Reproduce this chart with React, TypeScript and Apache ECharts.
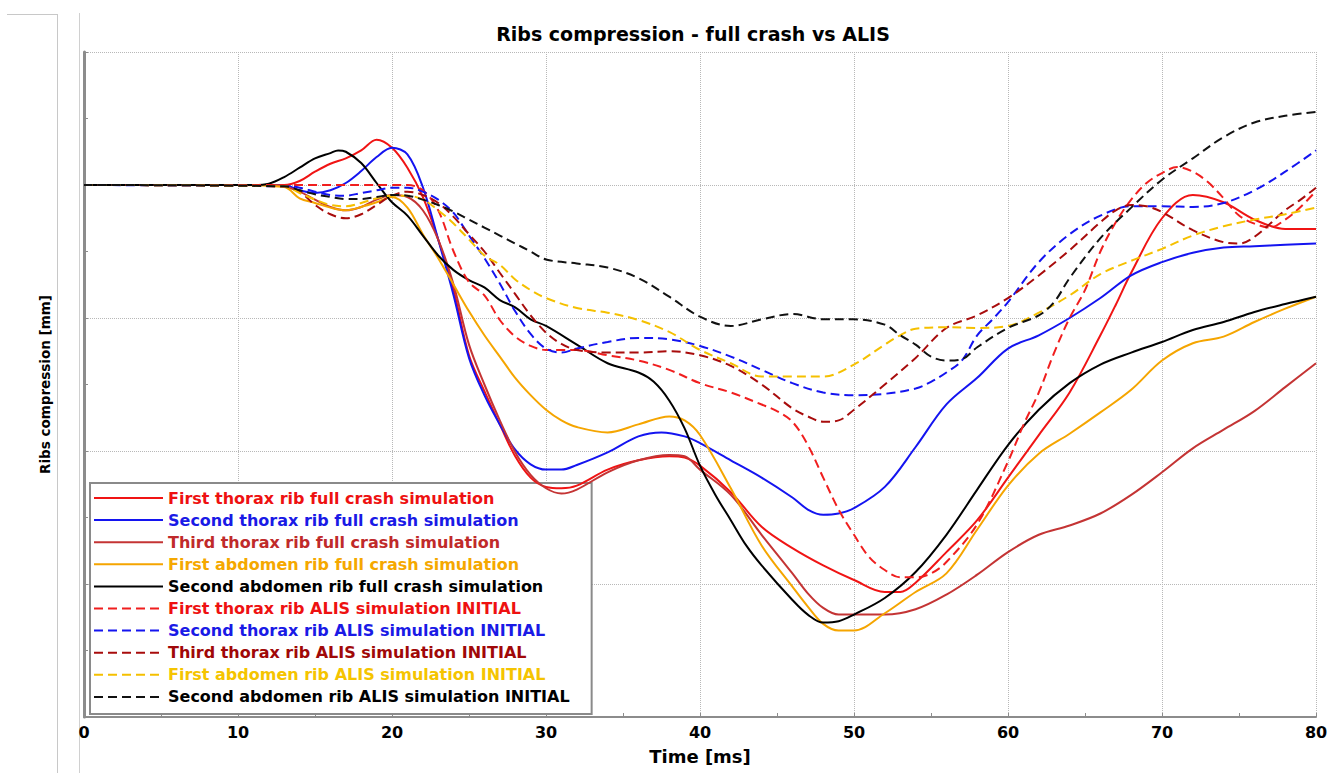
import React, { useEffect, useRef } from "react";
import * as echarts from "echarts";

const chartTitle = "Ribs compression - full crash vs ALIS";
const xAxisName = "Time [ms]";
const yAxisName = "Ribs compression [mm]";

const seriesNames = [
  "First thorax rib full crash simulation",
  "Second thorax rib full crash simulation",
  "Third thorax rib full crash simulation",
  "First abdomen rib full crash simulation",
  "Second abdomen rib full crash simulation",
  "First thorax rib ALIS simulation INITIAL",
  "Second thorax rib ALIS simulation INITIAL",
  "Third thorax rib ALIS simulation INITIAL",
  "First abdomen rib ALIS simulation INITIAL",
  "Second abdomen rib ALIS simulation INITIAL",
];

const seriesColors = [
  "#f01414", "#1414f0", "#c43434", "#f5a500", "#000000",
  "#f01e1e", "#1414f0", "#a80c0c", "#f5c000", "#111111",
];
const legendTextColors = [
  "#ee1111", "#1a1ae6", "#c02a2a", "#f5a800", "#000000",
  "#ee1111", "#1a1ae6", "#a00808", "#f5c400", "#000000",
];
const seriesDashed = [false, false, false, false, false, true, true, true, true, true];

const firstThoraxFull: [number, number][] = [
  [0, 40], [10, 40], [13, 40], [14, 40.3], [15, 41.0], [16, 41.6], [17, 42.0], [18, 42.6], [19, 43.4],
  [20, 42.8], [21, 41.3], [22, 39.1], [23, 35.9], [24, 32.1], [25, 27.2], [26, 24.5], [27, 22.0],
  [28, 19.6], [29, 18.0], [30, 17.3], [31, 17.2], [32, 17.4], [34, 18.6], [36, 19.3], [38, 19.6],
  [39, 19.5], [40, 18.9], [42, 16.9], [44, 14.3], [46, 12.7], [48, 11.4], [50, 10.3], [52, 9.4],
  [53, 9.4], [54, 10.1], [56, 12.4], [58, 14.8], [60, 18.0], [62, 21.2], [64, 24.4], [66, 28.7],
  [67, 31.0], [68, 33.4], [70, 37.5], [72, 39.25], [74, 38.7], [76, 37.4], [78, 36.7], [80, 36.7],
];

const secondThoraxFull: [number, number][] = [
  [0, 40], [10, 40], [13, 40], [14, 39.6], [15, 39.4], [16, 39.6], [17, 40.15], [18, 41.05], [19, 42.1],
  [20, 42.8], [21, 42.3], [22, 39.85], [23, 35.9], [24, 31.7], [25, 27.0], [26, 24.2], [27, 22.0],
  [28, 20.1], [29, 19.0], [30, 18.6], [31, 18.6], [32, 18.95], [34, 19.9], [36, 21.1], [37.5, 21.4],
  [39, 21.1], [40, 20.6], [42, 19.3], [44, 18.0], [46, 16.5], [47, 15.6], [48, 15.2], [49, 15.3],
  [50, 15.7], [52, 17.3], [54, 20.3], [56, 23.5], [58, 25.5], [60, 27.7], [62, 28.7], [64, 30.0],
  [66, 31.5], [68, 33.2], [70, 34.2], [72, 34.9], [74, 35.3], [76, 35.4], [78, 35.5], [80, 35.6],
];

const thirdThoraxFull: [number, number][] = [
  [0, 40], [10, 40], [12.5, 40], [13, 39.9], [14, 39.5], [15, 38.9], [16, 38.35], [17, 38.1], [18, 38.35],
  [19, 38.9], [20, 39.25], [21, 39.1], [22, 38.1], [23, 35.9], [24, 32.5], [25, 28.0], [26, 25.0],
  [27, 22.3], [28, 19.9], [29, 18.2], [30, 17.2], [31, 16.8], [32, 17.1], [34, 18.4], [36, 19.3],
  [38, 19.7], [39, 19.6], [40, 18.6], [42, 16.7], [44, 13.7], [46, 10.8], [47, 9.3], [48, 8.2],
  [49, 7.7], [50, 7.7], [52, 7.7], [54, 8.1], [56, 9.2], [58, 10.7], [60, 12.4], [62, 13.7],
  [64, 14.4], [66, 15.3], [68, 16.7], [70, 18.4], [72, 20.2], [74, 21.6], [76, 23.0], [78, 24.8], [80, 26.6],
];

const firstAbdomenFull: [number, number][] = [
  [0, 40], [10, 40], [13, 39.85], [14, 39.0], [15, 38.65], [16, 38.3], [17, 38.1], [18, 38.35], [19, 38.7],
  [20, 39.1], [21, 38.3], [22, 36.3], [23, 34.5], [24, 32.5], [25, 30.5], [26, 28.7], [27, 27.1],
  [28, 25.5], [29, 24.2], [30, 23.1], [31, 22.3], [32, 21.8], [34, 21.4], [36, 22.0], [38, 22.6],
  [39, 22.3], [40, 21.2], [42, 17.2], [44, 12.9], [46, 9.8], [47, 8.3], [48, 7.0], [49, 6.5],
  [50, 6.5], [52, 7.8], [54, 9.4], [56, 10.8], [58, 14.1], [60, 17.4], [62, 19.8], [64, 21.3],
  [66, 22.9], [68, 24.6], [70, 26.8], [72, 28.1], [74, 28.6], [76, 29.7], [78, 30.7], [80, 31.6],
];

const secondAbdomenFull: [number, number][] = [
  [0, 40], [11, 40], [12, 40.1], [13, 40.6], [14, 41.3], [15, 42.0], [16, 42.4], [16.5, 42.6], [17, 42.5],
  [18, 41.65], [19, 40.15], [20, 38.7], [21, 37.7], [22, 36.2], [23, 34.7], [24, 33.6], [25, 32.85],
  [26, 32.3], [27, 31.35], [28, 30.8], [29, 29.9], [30, 29.4], [32, 28.0], [34, 26.6], [36, 25.9],
  [37, 25.2], [38, 23.8], [39, 21.7], [40, 18.9], [41, 16.7], [42, 14.8], [43, 12.9], [44, 11.4],
  [46, 8.8], [47, 7.7], [48, 7.1], [49, 7.2], [50, 7.7], [52, 8.95], [54, 10.9], [56, 13.7],
  [58, 17.1], [60, 20.45], [62, 23.1], [64, 25.1], [66, 26.5], [68, 27.4], [70, 28.2], [72, 29.1],
  [74, 29.7], [76, 30.45], [78, 31.05], [80, 31.6],
];

const firstThoraxAlis: [number, number][] = [
  [0, 40], [21, 40], [22, 39.6], [23, 38.1], [24, 35.0], [25, 32.7], [26, 31.7], [27, 29.85], [28, 28.6],
  [29, 27.9], [30, 27.6], [31, 27.6], [32, 27.6], [34, 27.2], [36, 26.8], [38, 26.1], [40, 25.1],
  [42, 24.4], [44, 23.5], [45, 23.0], [46, 22.2], [47, 20.45], [48, 18.0], [49, 15.6], [50, 13.7],
  [51, 12.0], [52, 11.05], [53, 10.5], [54, 10.5], [55, 10.8], [56, 11.65], [58, 14.5], [60, 19.2],
  [61, 21.95], [62, 24.4], [63, 27.4], [64, 30.0], [65, 32.1], [66, 35.0], [67, 37.2], [68, 38.9],
  [69, 40.15], [70, 40.9], [71, 41.35], [72, 41.0], [73, 40.2], [74, 39.0], [75, 37.7], [76, 37.1],
  [77, 36.8], [78, 37.4], [79, 38.35], [80, 39.55],
];

const secondThoraxAlis: [number, number][] = [
  [0, 40], [13, 39.9], [14, 39.8], [15, 39.5], [16, 39.25], [17, 39.2], [18, 39.4], [19, 39.6], [20, 39.8],
  [21, 39.8], [22, 39.5], [23, 38.9], [24, 37.9], [25, 36.2], [26, 34.5], [27, 32.6], [28, 30.5],
  [29, 28.8], [30, 27.7], [31, 27.4], [32, 27.7], [34, 28.2], [36, 28.5], [38, 28.4], [40, 27.9],
  [42, 27.1], [44, 26.1], [46, 25.1], [48, 24.4], [50, 24.2], [52, 24.3], [54, 24.7], [55, 25.2],
  [56, 25.9], [57, 26.8], [58, 28.7], [59, 29.9], [60, 31.2], [62, 34.2], [64, 36.3], [66, 37.7],
  [68, 38.4], [70, 38.4], [72, 38.35], [74, 38.65], [76, 39.6], [78, 41.0], [80, 42.6],
];

const thirdThoraxAlis: [number, number][] = [
  [0, 40], [13, 39.9], [14, 39.5], [15, 38.5], [16, 37.8], [17, 37.5], [18, 37.8], [19, 38.5], [20, 39.2],
  [21, 39.5], [22, 39.25], [23, 38.65], [24, 37.6], [25, 36.3], [26, 35.0], [27, 33.4], [28, 31.8],
  [29, 30.2], [30, 28.9], [31, 28.05], [32, 27.6], [34, 27.4], [36, 27.4], [38, 27.5], [40, 27.2],
  [42, 26.4], [44, 25.0], [46, 23.2], [47, 22.6], [48, 22.2], [49, 22.3], [50, 23.1], [52, 25.0],
  [54, 27.0], [56, 29.25], [58, 30.2], [60, 31.5], [62, 33.2], [64, 35.1], [66, 37.2], [67, 38.1],
  [68, 38.5], [69, 38.4], [70, 37.97], [72, 36.6], [74, 35.7], [75, 35.6], [76, 36.1], [78, 38.1],
  [79, 38.9], [80, 39.8],
];

const firstAbdomenAlis: [number, number][] = [
  [0, 40], [13, 39.9], [14, 39.4], [15, 38.9], [16, 38.5], [17, 38.4], [18, 38.65], [19, 39.0], [20, 39.2],
  [21, 39.2], [22, 38.9], [23, 38.1], [24, 37.1], [25, 35.9], [26, 34.7], [27, 34.0], [28, 32.9],
  [29, 32.1], [30, 31.5], [32, 30.75], [34, 30.4], [36, 29.85], [38, 28.95], [40, 27.6], [42, 26.6],
  [44, 25.6], [46, 25.6], [48, 25.6], [50, 26.5], [52, 28.0], [53, 28.7], [54, 29.2], [56, 29.3],
  [58, 29.25], [60, 29.4], [62, 30.4], [64, 31.7], [66, 33.3], [68, 34.3], [70, 35.2], [72, 36.2],
  [74, 36.9], [76, 37.4], [78, 37.8], [80, 38.3],
];

const secondAbdomenAlis: [number, number][] = [
  [0, 40], [13, 39.9], [14, 39.6], [15, 39.3], [16, 39.1], [17, 38.95], [18, 38.95], [19, 39.1], [20, 39.25],
  [21, 39.2], [22, 38.9], [23, 38.5], [24, 38.0], [25, 37.4], [26, 36.8], [27, 36.2], [28, 35.6],
  [29, 35.0], [30, 34.4], [32, 34.1], [34, 33.8], [36, 33.0], [38, 31.6], [40, 30.1], [42, 29.4],
  [44, 29.9], [46, 30.3], [48, 29.9], [50, 29.9], [52, 29.5], [53, 28.7], [54, 28.0], [55, 27.1],
  [56, 26.8], [57, 26.9], [58, 27.8], [60, 29.25], [62, 30.2], [63, 31.2], [64, 33.0], [66, 36.0],
  [68, 38.3], [70, 40.4], [72, 42.0], [74, 43.6], [76, 44.7], [78, 45.2], [80, 45.5],
];

const seriesData = [
  firstThoraxFull, secondThoraxFull, thirdThoraxFull, firstAbdomenFull, secondAbdomenFull,
  firstThoraxAlis, secondThoraxAlis, thirdThoraxAlis, firstAbdomenAlis, secondAbdomenAlis,
];

const FONT = "DejaVu Sans";

export default function App() {
  const ref = useRef<HTMLDivElement>(null);
  useEffect(() => {
    if (!ref.current) return;
    const chart = echarts.init(ref.current, null, { renderer: "svg" });
    const gridLine = { show: true, lineStyle: { type: "dotted", color: "#b8b8b8", width: 1 } };
    const option = {
      animation: false,
      backgroundColor: "#ffffff",
      textStyle: { fontFamily: FONT },
      graphic: [
        { type: "line", shape: { x1: 7, y1: 14.5, x2: 57.5, y2: 14.5 }, style: { stroke: "#c8c8c8", lineWidth: 1 } },
        { type: "line", shape: { x1: 57.5, y1: 14, x2: 57.5, y2: 773 }, style: { stroke: "#c8c8c8", lineWidth: 1 } },
        { type: "line", shape: { x1: 79.5, y1: 13, x2: 79.5, y2: 773 }, style: { stroke: "#d0d0d0", lineWidth: 1 } },
        {
          type: "text", x: 693, y: 34,
          style: { text: chartTitle, fill: "#000", font: `bold 19px '${FONT}'`, textAlign: "center", textVerticalAlign: "middle" },
        },
      ],
      legend: {
        orient: "vertical",
        left: 90,
        top: 483,
        z: 1,
        padding: [6, 22, 8, 3],
        itemGap: 4.1,
        itemWidth: 69,
        itemHeight: 14,
        backgroundColor: "#ffffff",
        borderColor: "#8a8a8a",
        borderWidth: 2,
        itemStyle: { opacity: 0 },
        textStyle: { fontFamily: FONT, fontWeight: "bold", fontSize: 16, lineHeight: 18 },
        data: seriesNames.map((n, i) => ({ name: n, textStyle: { color: legendTextColors[i] } })),
      },
      grid: { left: 84, right: 24, top: 52, bottom: 56 },
      xAxis: {
        type: "value",
        min: 0,
        max: 80,
        interval: 10,
        name: xAxisName,
        nameLocation: "middle",
        nameGap: 30,
        nameTextStyle: { color: "#000", fontWeight: "bold", fontSize: 18, fontFamily: FONT },
        axisLine: { show: true, onZero: false, lineStyle: { color: "#8c8c8c", width: 2 } },
        axisTick: { show: true, inside: true, length: 4, lineStyle: { color: "#8c8c8c" } },
        minorTick: { show: true, splitNumber: 2, length: 4, lineStyle: { color: "#8c8c8c" } },
        splitLine: gridLine,
        axisLabel: { color: "#000", fontWeight: "bold", fontSize: 16, margin: 7, fontFamily: FONT },
      },
      yAxis: {
        type: "value",
        min: 0,
        max: 50,
        interval: 10,
        name: yAxisName,
        nameLocation: "middle",
        nameGap: 32,
        nameRotate: 90,
        nameTextStyle: { color: "#000", fontWeight: "bold", fontSize: 13.5, fontFamily: FONT },
        axisLine: { show: true, onZero: false, lineStyle: { color: "#8c8c8c", width: 3 } },
        axisTick: { show: true, inside: true, length: 4, lineStyle: { color: "#8c8c8c" } },
        minorTick: { show: true, splitNumber: 2, length: 4, lineStyle: { color: "#8c8c8c" } },
        splitLine: gridLine,
        axisLabel: { show: false },
      },
      series: seriesNames.map((n, i) => ({
        name: n,
        type: "line",
        data: seriesData[i],
        symbol: "none",
        showSymbol: false,
        smooth: 0.35,
        color: seriesColors[i],
        itemStyle: { color: seriesColors[i] },
        lineStyle: { color: seriesColors[i], width: 2, type: seriesDashed[i] ? [9, 5] : "solid" },
        z: 5,
      })),
    };
    chart.setOption(option as any);
    return () => chart.dispose();
  }, []);
  return <div ref={ref} style={{ position: "fixed", left: 0, top: 0, width: 1340, height: 773 }} />;
}
